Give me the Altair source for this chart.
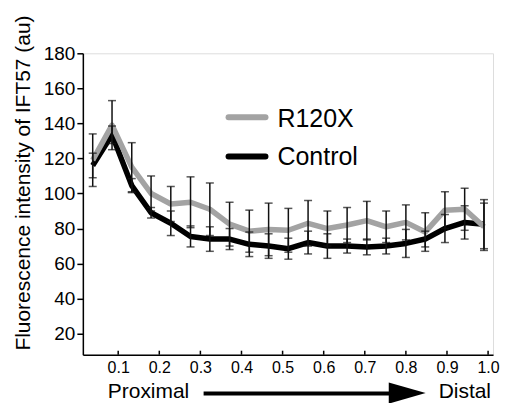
import altair as alt
import pandas as pd

# ---- data ----
x_pos = [0.038, 0.085, 0.133, 0.180, 0.228, 0.276, 0.323, 0.371, 0.419, 0.466, 0.514,
         0.562, 0.609, 0.657, 0.705, 0.752, 0.800, 0.847, 0.895, 0.943, 0.990]
r120x = [119, 139, 115, 100, 94, 95, 91, 82.5, 78.5, 79.5, 79,
         83, 80, 82, 84.5, 81, 83.5, 78, 90.5, 91, 81]
r120x_err = [15, 14, 14, 10, 10, 14.5, 15, 12.5, 12, 15, 12.5,
             13, 10, 10, 11, 9, 10, 11, 10.5, 12, 13.5]
control = [116, 133.5, 104.5, 89, 83, 75.5, 74, 74, 71, 70, 68.5,
           72, 70, 70, 69.5, 70, 71.5, 74, 80, 83.5, 82.5]
control_err = [7, 5, 4, 3, 7, 6, 7, 6, 7, 7, 6,
               6.5, 7, 4, 4.5, 4.5, 8, 4.5, 8, 9.5, 14]

series_names = ["R120X", "Control"]
series_colors = ["#a3a3a3", "#000000"]
x_ticks = [0.1, 0.2, 0.3, 0.4, 0.5, 0.6, 0.7, 0.8, 0.9, 1.0]
y_ticks = [20, 40, 60, 80, 100, 120, 140, 160, 180]
y_title = "Fluorescence intensity of IFT57 (au)"

rows = []
for name, vals, errs in [(series_names[0], r120x, r120x_err),
                         (series_names[1], control, control_err)]:
    for xv, v, e in zip(x_pos, vals, errs):
        rows.append({"series": name, "x": xv, "y": v, "lo": v - e, "hi": v + e})
df = pd.DataFrame(rows)

W, H = 411, 302
FONT = "Liberation Sans"

xs = alt.Scale(domain=[0.014, 1.012], nice=False, zero=False)
ys = alt.Scale(domain=[8, 180], nice=False, zero=False)

x_axis = alt.Axis(values=x_ticks, format=".1f", ticks=False, labelFontSize=16,
                  labelPadding=5, domainWidth=1.5, domainColor="black", grid=False,
                  title=None, labelFont=FONT, labelColor="black", labelFlush=False)
y_axis = alt.Axis(values=y_ticks, tickSize=6, tickWidth=1.5, tickColor="black",
                  labelFontSize=19, labelPadding=2, domainWidth=1.5, domainColor="black",
                  grid=False, title=None, labelFont=FONT, labelColor="black")

base = alt.Chart(df)


def series_line(name, color):
    return base.transform_filter(alt.datum.series == name).mark_line(
        color=color, strokeWidth=5.5, strokeJoin="round"
    ).encode(
        x=alt.X("x:Q", scale=xs, axis=x_axis),
        y=alt.Y("y:Q", scale=ys, axis=y_axis),
    )


line_control = series_line(series_names[1], series_colors[1])
line_r120x = series_line(series_names[0], series_colors[0])

err_rule = base.mark_rule(color="#111111", strokeWidth=1.5).encode(
    x=alt.X("x:Q", scale=xs, axis=x_axis),
    y=alt.Y("lo:Q", scale=ys, axis=y_axis),
    y2="hi:Q",
)
err_lo = base.mark_tick(orient="horizontal", size=8, thickness=1.5, color="#111111").encode(
    x=alt.X("x:Q", scale=xs, axis=x_axis),
    y=alt.Y("lo:Q", scale=ys, axis=y_axis),
)
err_hi = base.mark_tick(orient="horizontal", size=8, thickness=1.5, color="#111111").encode(
    x=alt.X("x:Q", scale=xs, axis=x_axis),
    y=alt.Y("hi:Q", scale=ys, axis=y_axis),
)

# inward x ticks
xtick_marks = alt.Chart(pd.DataFrame({"v": x_ticks})).mark_rule(
    color="black", strokeWidth=1.5
).encode(x=alt.X("v:Q", scale=xs, axis=x_axis), y=alt.value(H), y2=alt.value(H - 4))

one = pd.DataFrame({"k": [0]})


def label(text, x, y, size, align="left", angle=0, baseline="alphabetic"):
    return alt.Chart(pd.DataFrame({"t": [text]})).mark_text(
        font=FONT, fontSize=size, color="black", align=align, baseline=baseline, angle=angle
    ).encode(text="t:N", x=alt.value(x), y=alt.value(y))


title_txt = label(y_title, -59, 130, 21, align="center", angle=270, baseline="middle")
prox = label("Proximal", 25, 345, 21)
dist = label("Distal", 409, 345, 21, align="right")

arrow_line = alt.Chart(one).mark_rule(color="black", strokeWidth=4).encode(
    x=alt.value(121), x2=alt.value(308), y=alt.value(341)
)
arrow_head = alt.Chart(one).mark_point(
    shape="M-1,-0.57L1,0L-1,0.57Z", filled=True, size=1369, color="black", opacity=1
).encode(x=alt.value(325), y=alt.value(340.5))

leg_g = alt.Chart(one).mark_rule(color=series_colors[0], strokeWidth=6, strokeCap="round").encode(
    x=alt.value(146), x2=alt.value(183), y=alt.value(64)
)
leg_b = alt.Chart(one).mark_rule(color=series_colors[1], strokeWidth=6, strokeCap="round").encode(
    x=alt.value(146), x2=alt.value(183), y=alt.value(103.5)
)
leg_t1 = label(series_names[0], 195, 74, 25)
leg_t2 = label(series_names[1], 195, 112, 25)

chart = alt.layer(
    line_control, line_r120x, err_rule, err_lo, err_hi, xtick_marks,
    title_txt, prox, dist, arrow_line, arrow_head, leg_g, leg_b, leg_t1, leg_t2,
).properties(
    width=W, height=H, autosize="none",
    padding={"left": 75, "top": 45, "right": 10, "bottom": 48},
).configure_view(stroke=None).configure(background="white")

chart.save("out.html", embed_options={"renderer": "svg", "actions": False})
